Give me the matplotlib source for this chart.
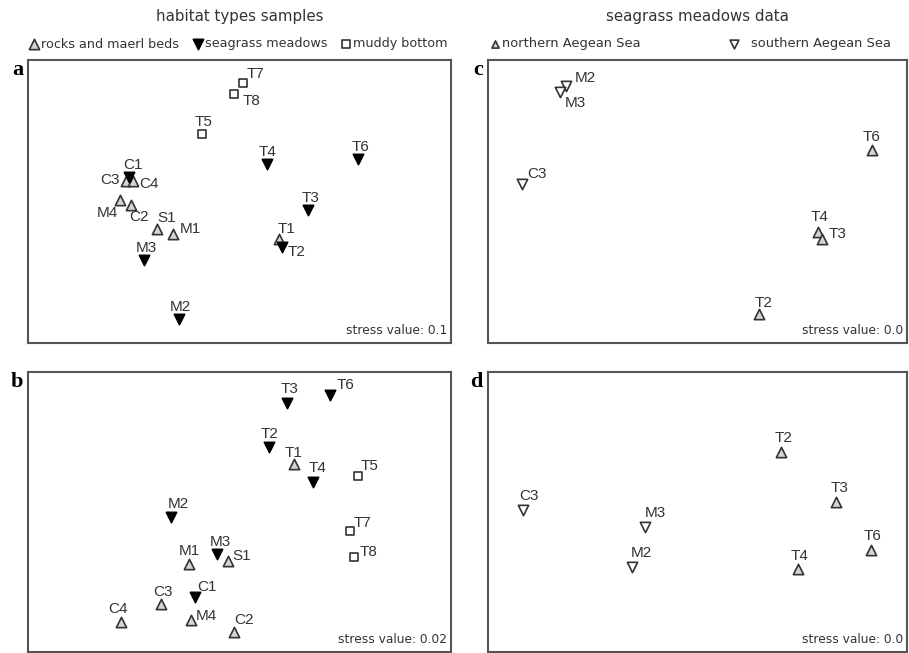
import numpy as np
import matplotlib.pyplot as plt

plt.rcParams['font.family'] = ['Liberation Sans', 'DejaVu Sans']

# ---- panel a: habitat types, stress 0.1
a_lab = ['T7', 'T8', 'T5', 'T4', 'T6', 'C1', 'C3', 'C4', 'M4', 'C2', 'S1', 'M1', 'M3', 'T3', 'T1', 'T2', 'M2']
a_x = [50.8, 48.7, 41.1, 56.5, 78.0, 23.9, 23.2, 24.8, 21.7, 24.3, 30.5, 34.3, 27.4, 66.2, 59.3, 60.0, 35.7]
a_y = [91.9, 88.0, 73.9, 63.3, 65.0, 58.7, 57.2, 57.2, 50.5, 48.8, 40.3, 38.5, 29.3, 47.0, 36.7, 33.9, 8.5]
a_grp = ['mud', 'mud', 'mud', 'sg', 'sg', 'sg', 'rock', 'rock', 'rock', 'rock', 'rock', 'rock', 'sg', 'sg', 'rock', 'sg', 'sg']

# ---- panel b: habitat types, stress 0.02
b_lab = ['T3', 'T6', 'T2', 'T1', 'T4', 'T5', 'M2', 'T7', 'T8', 'M1', 'M3', 'S1', 'C1', 'C3', 'C4', 'M4', 'C2']
b_x = [61.2, 71.4, 57.0, 62.9, 67.4, 78.0, 33.8, 76.1, 77.1, 38.1, 44.7, 47.3, 39.5, 31.4, 22.0, 38.5, 48.7]
b_y = [88.9, 91.8, 73.2, 67.1, 60.7, 62.9, 48.2, 43.2, 33.9, 31.4, 35.0, 32.5, 19.6, 17.1, 10.7, 11.4, 7.1]
b_grp = ['sg', 'sg', 'sg', 'rock', 'sg', 'mud', 'sg', 'mud', 'mud', 'rock', 'sg', 'rock', 'sg', 'rock', 'rock', 'rock', 'rock']

# ---- panel c: seagrass meadows, stress 0.0
c_lab = ['M2', 'M3', 'C3', 'T6', 'T4', 'T3', 'T2']
c_x = [18.6, 17.2, 8.1, 91.6, 78.8, 79.7, 64.7]
c_y = [90.8, 88.7, 56.2, 68.2, 39.2, 36.7, 10.2]
c_grp = ['south', 'south', 'south', 'north', 'north', 'north', 'north']

# ---- panel d: seagrass meadows, stress 0.0
d_lab = ['T2', 'C3', 'T3', 'M3', 'T6', 'M2', 'T4']
d_x = [69.9, 8.4, 83.1, 37.5, 91.4, 34.4, 74.0]
d_y = [71.4, 50.7, 53.6, 44.6, 36.4, 30.4, 29.6]
d_grp = ['north', 'south', 'north', 'south', 'north', 'south', 'north']

stress = {'a': '0.1', 'b': '0.02', 'c': '0.0', 'd': '0.0'}

# label offsets (pixels) per panel
a_off = {'T7': (13, 9), 'T8': (18, -7), 'T5': (2, 12), 'T4': (1, 12), 'T6': (3, 12), 'C1': (4, 12),
         'C3': (-16, 1), 'C4': (16, -3), 'M4': (-12, -13), 'C2': (8, -12), 'S1': (10, 11), 'M1': (17, 5),
         'M3': (2, 12), 'T3': (3, 12), 'T1': (8, 10), 'T2': (15, -5), 'M2': (1, 12)}
b_off = {'T3': (3, 14), 'T6': (16, 10), 'T2': (0, 13), 'T1': (-1, 11), 'T4': (4, 14), 'T5': (12, 10),
         'M2': (7, 13), 'T7': (13, 8), 'T8': (14, 5), 'M1': (0, 13), 'M3': (3, 12), 'S1': (14, 5),
         'C1': (12, 10), 'C3': (2, 12), 'C4': (-3, 13), 'M4': (16, 4), 'C2': (10, 12)}
c_off = {'M2': (19, 8), 'M3': (15, -11), 'C3': (15, 10), 'T6': (0, 13), 'T4': (1, 15), 'T3': (16, 5), 'T2': (4, 11)}
d_off = {'T2': (3, 14), 'C3': (6, 14), 'T3': (3, 14), 'M3': (10, 14), 'T6': (2, 14), 'M2': (9, 14), 'T4': (2, 13)}

sty = {
    'rock': dict(marker='^', facecolor='#d4d4d4', edgecolor='#333333', label='rocks and maerl beds'),
    'sg': dict(marker='v', facecolor='black', edgecolor='black', label='seagrass meadows'),
    'mud': dict(marker='s', facecolor='white', edgecolor='#333333', label='muddy bottom'),
    'north': dict(marker='^', facecolor='#d4d4d4', edgecolor='#333333', label='northern Aegean Sea'),
    'south': dict(marker='v', facecolor='white', edgecolor='#333333', label='southern Aegean Sea'),
}

fig = plt.figure(figsize=(9.09, 6.53), dpi=100)
W, H = 909., 653.
def box(l, t, r, b):
    return [l / W, 1 - b / H, (r - l) / W, (b - t) / H]

panels = [
    ('a', box(28, 60, 451, 343), a_lab, a_x, a_y, a_grp, a_off, ['rock', 'sg', 'mud']),
    ('b', box(28, 372, 451, 652), b_lab, b_x, b_y, b_grp, b_off, ['rock', 'sg', 'mud']),
    ('c', box(488, 60, 907, 343), c_lab, c_x, c_y, c_grp, c_off, ['north', 'south']),
    ('d', box(488, 372, 907, 652), d_lab, d_x, d_y, d_grp, d_off, ['north', 'south']),
]

axs = {}
for key, pos, lab, xs, ys, grp, off, order in panels:
    ax = fig.add_axes(pos)
    axs[key] = ax
    xs = np.array(xs); ys = np.array(ys); grp = np.array(grp)
    hnd = []
    for g in order:
        m = grp == g
        s = sty[g]
        ms = 40 if s['marker'] == 's' else 55
        h = ax.scatter(xs[m], ys[m], s=ms, marker=s['marker'], facecolor=s['facecolor'],
                       edgecolor=s['edgecolor'], linewidth=1.2, label=s['label'], zorder=3)
        hnd.append(h)
    for t, x, y in zip(lab, xs, ys):
        ax.annotate(t, (x, y), xytext=off[t], textcoords='offset pixels',
                    ha='center', va='center', fontsize=11, color='#333333')
    ax.set_xlim(0, 100)
    ax.set_ylim(0, 100)
    ax.set_xticks([]); ax.set_yticks([])
    for sp in ax.spines.values():
        sp.set_color('#555555'); sp.set_linewidth(1.5)
    ax.text(0.99, 0.022, 'stress value: ' + stress[key], transform=ax.transAxes,
            ha='right', va='bottom', fontsize=8.8, color='#333333', family='DejaVu Sans')
    ax.text(-0.012, 1.0, key, transform=ax.transAxes, ha='right', va='top',
            fontsize=16, fontweight='bold', family='Liberation Serif')
    axs[key + '_h'] = hnd

# left legend spread over 30..446 px
lg = fig.legend(handles=axs['a_h'], ncol=3, loc='center', mode='expand',
                bbox_to_anchor=(28 / W, 1 - 54 / H, 420 / W, 20 / H), bbox_transform=fig.transFigure,
                frameon=False, prop={'family': 'DejaVu Sans', 'size': 9.2}, handletextpad=0.15,
                handlelength=0.9, borderaxespad=0, borderpad=0, labelcolor='#333333')
# right legend: two entries placed apart
lg2 = fig.legend(handles=[axs['c_h'][0]], loc='center left',
                 bbox_to_anchor=(490 / W, 1 - 44 / H), bbox_transform=fig.transFigure,
                 frameon=False, prop={'family': 'DejaVu Sans', 'size': 9.4}, handletextpad=0.15,
                 handlelength=0.8, markerscale=0.7, borderaxespad=0, borderpad=0, labelcolor='#333333')
lg3 = fig.legend(handles=[axs['c_h'][1]], loc='center left',
                 bbox_to_anchor=(729 / W, 1 - 44 / H), bbox_transform=fig.transFigure,
                 frameon=False, prop={'family': 'DejaVu Sans', 'size': 9.4}, handletextpad=0.9,
                 handlelength=0.8, markerscale=0.85, borderaxespad=0, borderpad=0, labelcolor='#333333')

fig.text(240 / W, 1 - 17 / H, 'habitat types samples', ha='center', va='center', fontsize=10.8,
         color='#333333', family='DejaVu Sans')
fig.text(697 / W, 1 - 17 / H, 'seagrass meadows data', ha='center', va='center', fontsize=10.8,
         color='#333333', family='DejaVu Sans')

fig.savefig('out.png', dpi=100)
